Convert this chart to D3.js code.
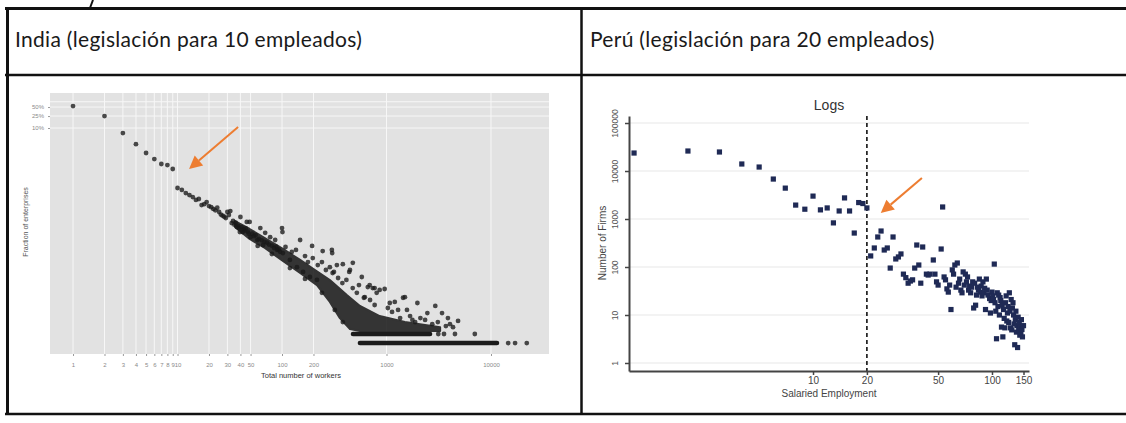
<!DOCTYPE html>
<html lang="es">
<head>
<meta charset="UTF-8">
<script src="https://d3js.org/d3.v7.min.js"></script>
<title>India y Perú</title>
<style>
  body { margin: 0; background: #fff; }
</style>
</head>
<body>
<div id="chart"></div>
<script>
// --- headers ---
const headers = ["India (legislación para 10 empleados)", "Perú (legislación para 20 empleados)"];

// --- India: fraction of enterprises by total number of workers ---
const indiaXTicks = [1, 2, 3, 4, 5, 6, 7, 8, 9, 10, 20, 30, 40, 50, 100, 200, 1000, 10000];
const indiaYTicks = [0.5, 0.25, 0.1];
const indiaYLabels = ["50%", "25%", "10%"];
const indiaYGrid = [0.75, 0.5, 0.25, 0.1];
// [workers, share]
const indiaPoints = [
  [1,0.54],[2,0.25],[3,0.068],[4,0.029],[5,0.0147],[6,0.0092],[7,0.0063],[8,0.0058],[9,0.0043],
  [10,1.0e-3],[11,8.6e-4],[12,6.8e-4],[13,5.8e-4],[14,5.0e-4],[15,4.0e-4],[16,4.3e-4],[17,2.7e-4],
  [18,2.9e-4],[19,3.4e-4],[20,2.5e-4],[21,2.3e-4],[22,2.0e-4],[23,1.8e-4],[24,2.2e-4],[25,1.6e-4],
  [26,1.3e-4],[27,1.2e-4],[28,1.1e-4],[29,1.0e-4],[30,1.6e-4],[31,1.26e-4],[32,1.7e-4],[33,6.8e-5],
  [34,8.0e-5],[35,6.0e-5],[36,7.0e-5],[37,5.0e-5],[38,5.5e-5],[39,4.5e-5],[40,1.08e-4],[41,5.0e-5],
  [42,3.4e-5],[43,4.2e-5],[44,3.8e-5],[45,4.5e-5],[46,7.4e-5],[47,3.5e-5],[48,3.0e-5],[49,7.4e-5],
  [50,2.3e-5],[52,3.0e-5],[54,2.5e-5],[56,2.7e-5],[58,1.85e-5],[60,2.0e-5],[62,4.6e-5],[64,1.8e-5],
  [66,1.26e-5],[68,1.6e-5],[69,3.2e-5],[72,1.5e-5],[75,1.3e-5],[77,2.3e-5],[80,1.2e-5],[84,1.0e-5],
  [86,1.85e-5],[88,1.1e-5],[90,8.6e-6],[93,9.0e-6],[96,7.5e-6],[100,4.6e-5],[101,3.4e-5],[102,6.8e-6],
  [119,4.0e-6],[139,2.3e-6],[149,1.85e-5],[159,1.6e-6],[185,1.08e-6],[194,1.17e-5],[216,8.6e-7],
  [245,7.9e-6],[287,2.3e-6],[300,8.6e-6],[302,6.8e-6],[305,1.47e-6],[335,2.7e-6],[382,2.9e-6],
  [440,1.6e-6],[447,1.85e-6],[476,3.2e-6],[580,1.08e-6],[620,2.3e-7],[662,5.0e-7],[690,5.8e-7],
  [738,4.6e-7],[770,4.6e-7],[805,3.2e-7],[860,4.0e-7],[960,4.3e-7],[1075,1.47e-7],[1200,1.6e-7],
  [1290,8.6e-8],[1440,2.2e-7],[1500,2.3e-7],[1570,8.6e-8],[1770,4.0e-8],[1975,1.47e-7],[2110,4.6e-8],
  [2460,6.8e-8],[2930,1.17e-7],[3400,6.8e-8],[3870,4.6e-8],[4330,2.3e-8],[4840,3.7e-8],
  [108,1.08e-5],[124,7.4e-6],[136,8.6e-6],[166,5.4e-6],[177,3.4e-6],[197,4.6e-6],[220,2.7e-6],
  [241,3.4e-6],[263,1.85e-6],[314,1.6e-6],[344,1.0e-6],[378,6.8e-7],[413,8.6e-7],[475,4.6e-7],
  [520,3.2e-7],[545,5.8e-7],[607,2.2e-7],[696,1.85e-7],[770,1.26e-7],[1030,1.0e-7],[1130,7.4e-8],
  [1350,4.6e-8],[1680,5.4e-8],[1880,3.4e-8],[2340,4.0e-8],[2740,2.9e-8],[3100,3.4e-8],[3700,2.5e-8],
  [4050,2.9e-8],
  [39.5,3.4e-5],[58.5,1.17e-5],[80,6.3e-6],[119,2.15e-6],[166,9.3e-7],[241,3.2e-7],[320,8.6e-8],[382,3.4e-8],
  [3130,1.36e-8],[3550,1.36e-8],[4520,1.36e-8],[7000,1.36e-8],
  [14600,6.8e-9],[17000,6.8e-9],[22000,6.8e-9]
];
// dense core of the cloud (upper and lower edge)
const indiaCoreUpper = [[35.5,7.9e-5],[49,4.3e-5],[68.5,2.15e-5],[102,9.3e-6],[149,4.0e-6],[207,1.85e-6],
  [287,8.6e-7],[417,2.7e-7],[557,1.17e-7],[860,5.4e-8],[1500,3.4e-8],[3260,2.3e-8]];
const indiaCoreLower = [[35.5,5.0e-5],[49,2.0e-5],[68.5,1.0e-5],[102,3.7e-6],[149,1.47e-6],[216,5.8e-7],
  [287,1.6e-7],[358,4.6e-8],[447,2.0e-8],[557,1.7e-8],[3260,1.7e-8]];
// runs of sizes with one / two firms: [from, to, share]
const indiaFloorRuns = [[557, 11400, 6.8e-9], [478, 2610, 1.36e-8]];
const indiaArrow = { tail: [38, 0.108], tip: [12.9, 4.3e-3] };

// --- Peru: number of firms by salaried employment ---
const peruXTicks = [10, 20, 50, 100, 150];
const peruYTicks = [1, 10, 100, 1000, 10000, 100000];
const peruThreshold = 20;
// [employees, firms]
const peruPoints = [
  [1,23700],[2,26100],[3,24900],[4,14000],[5,12100],[6,6800],[7,4400],[8,1950],[9,1600],[10,3000],
  [11,1550],[12,1700],[13,830],[14,1470],[15,2750],[16,1470],[17,510],[18,2200],[19,2100],[20,1700],
  [21,170],[22,249],[23,422],[24,562],[25,226],[26,249],[27,95],[28,422],[29,147],[30,162],[31,187],
  [32,71],[33,60],[34,46],[35,51],[36,54],[37,95],[38,287],[39,110],[40,46],[41,261],[43,71],[44,68],
  [45,71],[47,140],[48,71],[49,49],[50,42],[52,237],[53,1780],[54,62],[55,54],[56,35],[57,30],[58,42],
  [59,13],[60,87],[61,71],[62,110],[63,38],[64,121],[65,46],[66,56],[67,33],[68,29],[69,79],[70,42],
  [71,71],[72,49],[73,62],[74,33],[75,40],[76,29],[77,38],[78,49],[79,14],[80,46],[81,16],[82,26],
  [83,38],[84,33],[85,56],[86,30],[87,40],[88,25],[89,49],[90,29],[91,36],[92,13],[93,56],[94,33],
  [95,26],[97,22],[98,11],[99,20],[100,30],[101,25],[102,21],[103,115],[104,18],[105,12],[106,3.2],
  [107,29],[108,15],[109,26],[110,10],[111,23],[112,20],[113,5.6],[114,16],[115,3.5],[116,13],
  [117,8.5],[118,5.4],[119,18],[120,25],[121,7.5],[122,11],[123,15],[124,7],[125,29],[126,12],
  [127,5.4],[128,21],[129,4.9],[130,14],[131,18],[132,10],[133,6.5],[134,2.4],[135,8],[136,12],
  [137,4.4],[138,6],[139,2.1],[140,9],[141,4.9],[142,7],[143,3.8],[144,5.6],[145,4.2],[146,8],
  [147,5],[148,3.5],[150,6]
];
const peruArrow = { tail: [40.6, 7150], tip: [23.9, 1330] };

const W = 1126, H = 423;
const orange = "#ed7d31";
const svg = d3.select("#chart").append("svg").attr("width", W).attr("height", H);

function arrow(g, x0, y0, x1, y1) {
  const a = Math.atan2(y1 - y0, x1 - x0), len = 13, hw = 6.5;
  const bx = x1 - len * Math.cos(a), by = y1 - len * Math.sin(a);
  g.append("line").attr("x1", x0).attr("y1", y0).attr("x2", bx).attr("y2", by)
    .attr("stroke", orange).attr("stroke-width", 2);
  g.append("path")
    .attr("d", `M${x1},${y1}L${bx + hw * Math.sin(a)},${by - hw * Math.cos(a)}L${bx - hw * Math.sin(a)},${by + hw * Math.cos(a)}Z`)
    .attr("fill", orange);
}

// ---------- India panel ----------
const ix = d3.scaleLog().domain([0.602, 35900]).range([50, 549]);
const iy = d3.scaleLog().domain([1.468, 2.93e-9]).range([93, 354]);
const gi = svg.append("g");

gi.append("rect").attr("x", 50).attr("y", 93).attr("width", 499).attr("height", 261).attr("fill", "#e2e2e2");
gi.selectAll(".vgrid").data(indiaXTicks).enter().append("line")
  .attr("x1", d => ix(d)).attr("x2", d => ix(d)).attr("y1", 93).attr("y2", 354)
  .attr("stroke", "#f7f7f7").attr("stroke-width", 1);
gi.selectAll(".hgrid").data(indiaYGrid).enter().append("line")
  .attr("x1", 50).attr("x2", 549).attr("y1", d => iy(d)).attr("y2", d => iy(d))
  .attr("stroke", "#f7f7f7").attr("stroke-width", 1);

const coreLine = d3.line().x(d => ix(d[0])).y(d => iy(d[1]));
gi.append("path")
  .attr("d", coreLine(indiaCoreUpper.concat(indiaCoreLower.slice().reverse())) + "Z")
  .attr("fill", "#161616").attr("stroke", "#161616").attr("stroke-width", 2)
  .attr("stroke-linejoin", "round").attr("opacity", 0.85);

gi.selectAll(".run").data(indiaFloorRuns).enter().append("line")
  .attr("x1", d => ix(d[0])).attr("x2", d => ix(d[1]))
  .attr("y1", d => iy(d[2])).attr("y2", d => iy(d[2]))
  .attr("stroke", "#1b1b1b").attr("stroke-width", 4.6).attr("stroke-linecap", "round");

gi.selectAll(".ipt").data(indiaPoints).enter().append("circle")
  .attr("cx", d => ix(d[0])).attr("cy", d => iy(d[1])).attr("r", 2.4)
  .attr("fill", "#1a1a1a").attr("opacity", 0.78);

const ixAxis = gi.append("g").attr("transform", "translate(0,354)")
  .call(d3.axisBottom(ix).tickValues(indiaXTicks).tickFormat(d3.format("d")).tickSize(2).tickPadding(7));
ixAxis.select(".domain").remove();
ixAxis.selectAll("line").attr("stroke", "#999");
ixAxis.selectAll("text").attr("fill", "#8a8a8a").attr("font-size", 6).attr("font-family", "Liberation Sans, Arial, sans-serif");

const iyAxis = gi.append("g").attr("transform", "translate(50,0)")
  .call(d3.axisLeft(iy).tickValues(indiaYTicks).tickFormat((d, i) => indiaYLabels[i]).tickSize(2).tickPadding(4));
iyAxis.select(".domain").remove();
iyAxis.selectAll("line").attr("stroke", "#999");
iyAxis.selectAll("text").attr("fill", "#8a8a8a").attr("font-size", 6).attr("font-family", "Liberation Sans, Arial, sans-serif");

gi.append("text").attr("x", 301).attr("y", 378).attr("text-anchor", "middle")
  .attr("font-family", "Liberation Sans, Arial, sans-serif").attr("font-size", 7.5).attr("fill", "#333")
  .text("Total number of workers");
gi.append("text").attr("transform", "translate(28,222) rotate(-90)").attr("text-anchor", "middle")
  .attr("font-family", "Liberation Sans, Arial, sans-serif").attr("font-size", 7).attr("fill", "#555")
  .text("Fraction of enterprises");

arrow(gi, ix(indiaArrow.tail[0]), iy(indiaArrow.tail[1]), ix(indiaArrow.tip[0]), iy(indiaArrow.tip[1]));

// ---------- Peru panel ----------
const px = d3.scaleLog().domain([0.937, 161]).range([629, 1029]);
const py = d3.scaleLog().domain([0.681, 140000]).range([371, 116]);
const gp = svg.append("g");

gp.selectAll(".pgrid").data(peruYTicks).enter().append("line")
  .attr("x1", 629).attr("x2", 1029).attr("y1", d => py(d)).attr("y2", d => py(d))
  .attr("stroke", "#e8e8e8").attr("stroke-width", 1.2);

gp.append("line").attr("x1", px(peruThreshold)).attr("x2", px(peruThreshold))
  .attr("y1", 116).attr("y2", 371).attr("stroke", "#111").attr("stroke-width", 1.6)
  .attr("stroke-dasharray", "4,3");

gp.selectAll(".ppt").data(peruPoints).enter().append("rect")
  .attr("x", d => px(d[0]) - 2.6).attr("y", d => py(d[1]) - 2.6)
  .attr("width", 5.2).attr("height", 5.2).attr("fill", "#1f2a55");

const pxAxis = gp.append("g").attr("transform", "translate(0,371)")
  .call(d3.axisBottom(px).tickValues(peruXTicks).tickFormat(d3.format("d")).tickSize(4).tickSizeOuter(0).tickPadding(2));
pxAxis.select(".domain").attr("stroke", "#444").attr("stroke-width", 2);
pxAxis.selectAll("line").attr("stroke", "#444").attr("stroke-width", 1.5);
pxAxis.selectAll("text").attr("fill", "#444").attr("font-size", 10).attr("font-family", "Liberation Sans, Arial, sans-serif");

const pyAxis = gp.append("g").attr("transform", "translate(629,0)")
  .call(d3.axisLeft(py).tickValues(peruYTicks).tickFormat(d3.format("d")).tickSize(4).tickSizeOuter(0));
pyAxis.select(".domain").attr("stroke", "#444").attr("stroke-width", 2);
pyAxis.selectAll("line").attr("stroke", "#444").attr("stroke-width", 1.5);
pyAxis.selectAll("text").attr("x", null).attr("dy", null).attr("text-anchor", "middle")
  .attr("transform", "translate(-11,0) rotate(-90)")
  .attr("fill", "#555").attr("font-size", 8.5).attr("font-family", "Liberation Sans, Arial, sans-serif");

gp.append("text").attr("x", 829).attr("y", 110).attr("text-anchor", "middle")
  .attr("font-family", "Liberation Sans, Arial, sans-serif").attr("font-size", 14).attr("fill", "#333")
  .text("Logs");
gp.append("text").attr("x", 829).attr("y", 397).attr("text-anchor", "middle")
  .attr("font-family", "Liberation Sans, Arial, sans-serif").attr("font-size", 10).attr("fill", "#444")
  .text("Salaried Employment");
gp.append("text").attr("transform", "translate(606,243) rotate(-90)").attr("text-anchor", "middle")
  .attr("font-family", "Liberation Sans, Arial, sans-serif").attr("font-size", 10).attr("fill", "#444")
  .text("Number of Firms");

arrow(gp, px(peruArrow.tail[0]), py(peruArrow.tail[1]), px(peruArrow.tip[0]), py(peruArrow.tip[1]));

// ---------- table ----------
const gt = svg.append("g").attr("stroke", "#111");
gt.append("line").attr("x1", 5).attr("x2", W).attr("y1", 8.5).attr("y2", 8.5).attr("stroke-width", 3);
gt.append("line").attr("x1", 5).attr("x2", W).attr("y1", 75).attr("y2", 75).attr("stroke-width", 2.5);
gt.append("line").attr("x1", 5).attr("x2", W).attr("y1", 414).attr("y2", 414).attr("stroke-width", 2.5);
gt.append("line").attr("x1", 7.5).attr("x2", 7.5).attr("y1", 7).attr("y2", 415).attr("stroke-width", 3);
gt.append("line").attr("x1", 581.5).attr("x2", 581.5).attr("y1", 7).attr("y2", 415).attr("stroke-width", 2.5);
gt.append("line").attr("x1", 93).attr("x2", 90).attr("y1", 0).attr("y2", 8).attr("stroke-width", 2);

svg.selectAll(".hdr").data(headers).enter().append("text")
  .attr("x", (d, i) => i === 0 ? 15 : 590).attr("y", 47)
  .attr("font-family", "Lato, 'Open Sans', sans-serif").attr("font-size", 21)
  .attr("letter-spacing", 0.3).attr("fill", "#1a1a1a")
  .text(d => d);
</script>
</body>
</html>
